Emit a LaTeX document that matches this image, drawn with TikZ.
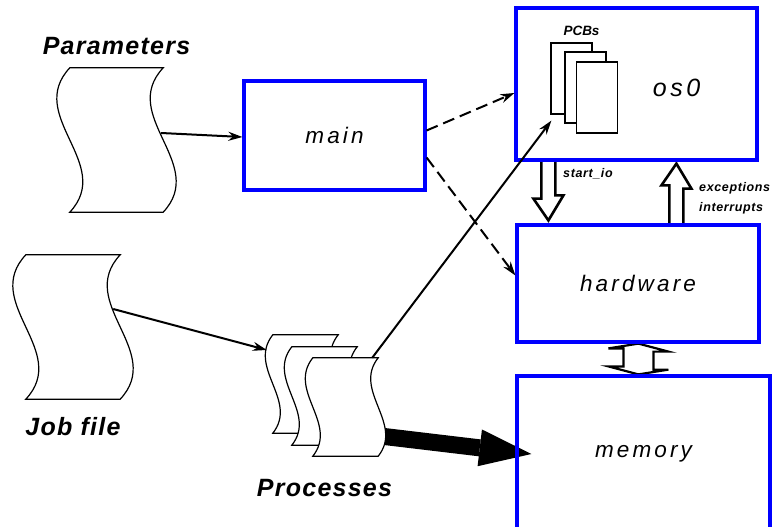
\documentclass[tikz,border=0pt]{standalone}
\usepackage{fontspec}
\setmainfont{Liberation Sans}
\newfontfamily\widesans{Liberation Sans}[LetterSpace=14]
\newfontfamily\capsans{Liberation Sans}[LetterSpace=5]
\usetikzlibrary{arrows.meta, positioning, calc, backgrounds}
\tikzset{
    sysbox/.style={rectangle, draw=blue, line width=3.2pt, inner sep=0pt, font=\widesans\itshape\fontsize{22.5}{26}\selectfont},
    docspot/.style={rectangle, inner sep=0pt},
    pcb/.style={rectangle, draw, fill=white, line width=1.2pt, minimum width=41pt, minimum height=71pt, inner sep=0pt},
    docline/.style={draw=black, fill=white, line width=1.2pt},
    caption/.style={inner sep=0pt, font=\capsans\bfseries\itshape\fontsize{25}{30}\selectfont},
    tag/.style={inner sep=0pt, font=\capsans\bfseries\itshape\fontsize{12.5}{14}\selectfont},
    arrow/.style={line width=2pt, -{Stealth[length=14pt, width=9pt]}},
    dasharrow/.style={arrow, dash pattern=on 12pt off 6pt},
    hollow/.style={draw, fill=white, line width=2.6pt, line join=miter},
    bigarrow/.style={line width=17pt, -{Triangle[length=52pt, width=37pt, line width=0pt]}}
}
% wavy sheet around a placeholder node: name, bulge
\newcommand{\wavydoc}[2]{%
    \filldraw[docline] (#1.north west) -- (#1.north east)
        .. controls ($(#1.north east)!0.333!(#1.south east)+(-#2,0)$) and ($(#1.north east)!0.667!(#1.south east)+(#2,0)$) .. (#1.south east)
        -- (#1.south west)
        .. controls ($(#1.north west)!0.667!(#1.south west)+(#2,0)$) and ($(#1.north west)!0.333!(#1.south west)+(-#2,0)$) .. (#1.north west) -- cycle;
}
\begin{document}
\begin{tikzpicture}[x=1pt, y=-1pt]
    \useasboundingbox (0,0) rectangle (777,527);
    \clip (0,0) rectangle (777,527);

    % sheets
    \node[docspot, minimum width=93pt, minimum height=144pt] (params) at (116.5,140) {};
    \node[docspot, minimum width=94pt, minimum height=144pt] (jobfile) at (73,327) {};
    \node[docspot, minimum width=65pt, minimum height=98pt] (proc1) at (305.5,384) {};
    \node[docspot, minimum width=65pt, minimum height=98pt] (proc2) at (324.5,396) {};
    \node[docspot, minimum width=65pt, minimum height=98pt] (proc3) at (345.5,407) {};

    % system boxes
    \node[sysbox, minimum width=181pt, minimum height=109pt] (main) at (334.5,135.5) {main};
    \node[sysbox, minimum width=241pt, minimum height=152pt] (os) at (636.5,84) {};
    \node[sysbox, minimum width=242pt, minimum height=117pt] (hardware) at (638,283.5) {hardware};
    \node[sysbox, minimum width=253pt, minimum height=156pt] (memory) at (643.5,454) {memory};
    \node[inner sep=0pt, font=\widesans\itshape\fontsize{25}{30}\selectfont] (oslabel) at (676.5,88) {os0};

    \node[pcb] (pcb1) at (571.5,78.5) {};
    \node[pcb] (pcb2) at (585.5,87.5) {};
    \node[pcb] (pcb3) at (597,97.5) {};
    \node[inner sep=0pt, font=\bfseries\itshape\fontsize{13.5}{15}\selectfont, above=7pt of pcb1, xshift=10pt] (pcblabel) {PCBs};

    % labels
    \node[caption, above=13pt of params] (paramslabel) {Parameters};
    \node[caption, below=18pt of jobfile] (joblabel) {Job file};
    \node[caption, below=34pt of proc2] (proclabel) {Processes};
    \node[tag, anchor=base west] (iolabel) at (563,177) {start\_io};
    \node[tag, anchor=base west] (exclabel) at (699,191) {exceptions};
    \node[tag, anchor=base west] (intlabel) at (699,211) {interrupts};

    \begin{scope}[on background layer]
        \draw[bigarrow] ($(proc3.east)+(2,29)$) -- ($(memory.west)+(16,0)$);
        \filldraw[hollow] ($(os.south west)+(27,0)$) -- ++(0,37) -- ++(-8,0) -- ($(hardware.north west)+(33,-3)$) -- ++(15,-25) -- ++(-8,0) -- ++(0,-37);
        \filldraw[hollow] ($(hardware.north west)+(154,0)$) -- ++(0,-38) -- ++(-8,0) -- ($(os.south west)+(162,2)$) -- ++(15,25) -- ++(-8,0) -- ++(0,38);
        \filldraw[hollow, line width=2.2pt] ($(hardware.south west)+(123,0)$) -- ++(30,8) -- ++(-15,0) -- ++(0,18) -- ++(15,0)
            -- ($(memory.north west)+(123,0)$) -- ++(-30,-8) -- ++(15,0) -- ++(0,-18) -- ++(-15,0) -- cycle;
    \end{scope}

    \wavydoc{params}{45}
    \wavydoc{jobfile}{45}
    \wavydoc{proc1}{26}
    \wavydoc{proc2}{26}
    \wavydoc{proc3}{26}

    % connectors
    \draw[arrow] ($(params.east)+(-2,-7)$) -- ($(main.west)+(0,1.5)$);
    \draw[arrow] ($(jobfile.east)+(-7,-18)$) -- ($(proc1.west)+(-6,-34)$);
    \draw[dasharrow] ($(main.east)+(0,-5)$) -- ($(os.west)+(0,9)$);
    \draw[dasharrow] ($(main.east)+(0,22)$) -- ($(hardware.west)+(0,-8)$);
    \draw[arrow] ($(proc3.north east)+(-6,0)$) -- ($(pcb1.south west)+(1,6)$);
\end{tikzpicture}
\end{document}
